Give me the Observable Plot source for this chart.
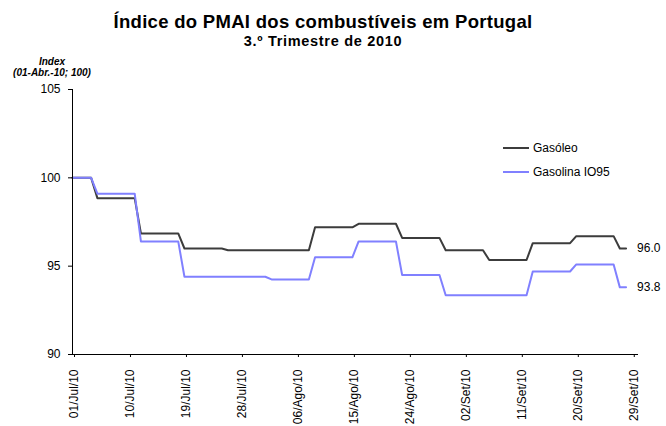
<!DOCTYPE html>
<html>
<head>
<meta charset="utf-8">
<script src="https://cdn.jsdelivr.net/npm/d3@7"></script>
<script src="https://cdn.jsdelivr.net/npm/@observablehq/plot@0.6"></script>
<style>
  html, body { margin: 0; padding: 0; background: #fff; overflow: hidden; }
  #wrap { position: relative; width: 666px; height: 426px; font-family: "Liberation Sans", Arial, sans-serif; color: #000; }
  .abs { position: absolute; white-space: nowrap; }
  #title { left: 0; width: 646px; text-align: center; top: 12px; font-size: 18.5px; line-height: 20.6px; font-weight: bold; letter-spacing: 0.3px; }
  #subtitle { left: 0; width: 646px; text-align: center; top: 33px; font-size: 14.5px; line-height: 16.2px; font-weight: bold; letter-spacing: 0.7px; }
  #ylab1, #ylab2 { left: 2px; width: 100px; text-align: center; font-size: 10px; line-height: 10px; font-weight: bold; font-style: italic; }
  #ylab1 { top: 57px; }
  #ylab2 { top: 68px; }
  #legend { left: 503px; top: 140px; font-size: 12px; }
  .item { display: flex; align-items: center; height: 16px; margin-bottom: 8px; }
  .sw { width: 26px; height: 2px; margin-right: 4px; }
  #chart { position: absolute; left: 0; top: 0; }
</style>
</head>
<body>
<div id="wrap">
  <div id="chart"></div>
  <div class="abs" id="title"></div>
  <div class="abs" id="subtitle"></div>
  <div class="abs" id="ylab1"></div>
  <div class="abs" id="ylab2"></div>
  <div class="abs" id="legend"></div>
</div>
<script>
// ---- Data ----
const titleText = "Índice do PMAI dos combustíveis em Portugal";
const subtitleText = "3.º Trimestre de 2010";
const yLabelLines = ["Index", "(01-Abr.-10; 100)"];

const seriesNames = ["Gasóleo", "Gasolina IO95"];
const seriesColors = ["#3c3c3c", "#8080ff"];

// Dates at which a new weekly price level starts
const changeDates = ["2010-07-01","2010-07-05","2010-07-12","2010-07-19","2010-07-26","2010-08-02","2010-08-09",
                     "2010-08-16","2010-08-23","2010-08-30","2010-09-06","2010-09-13","2010-09-20","2010-09-27"];
const lastDate = "2010-09-28";
const gasoleo  = [100, 98.85, 96.85, 96.0, 95.9, 95.9, 97.2, 97.4, 96.6, 95.9, 95.35, 96.3, 96.7, 96.0];
const gasolina = [100, 99.1, 96.4, 94.4, 94.4, 94.25, 95.5, 96.4, 94.5, 93.35, 93.35, 94.7, 95.1, 93.8];

const tickDates  = ["2010-07-01","2010-07-10","2010-07-19","2010-07-28","2010-08-06","2010-08-15",
                    "2010-08-24","2010-09-02","2010-09-11","2010-09-20","2010-09-29"];
const tickLabels = ["01/Jul/10","10/Jul/10","19/Jul/10","28/Jul/10","06/Ago/10","15/Ago/10",
                    "24/Ago/10","02/Set/10","11/Set/10","20/Set/10","29/Set/10"];
const yTicks = [90, 95, 100, 105];
const xDomainDates = ["2010-07-01", "2010-09-30"];
const yDomain = [90, 105];

// ---- Build table ----
const parse = d3.utcParse("%Y-%m-%d");
const DAY = 86400000;
function buildSeries(name, values) {
  const pts = [];
  for (let i = 0; i < changeDates.length; i++) {
    const start = parse(changeDates[i]);
    const end = i < changeDates.length - 1 ? new Date(parse(changeDates[i + 1]) - DAY) : parse(lastDate);
    pts.push({series: name, date: start, value: values[i]});
    pts.push({series: name, date: end, value: values[i]});
  }
  return pts;
}
const rows = [...buildSeries(seriesNames[0], gasoleo), ...buildSeries(seriesNames[1], gasolina)];
const lastPts = [
  {series: seriesNames[0], date: parse(lastDate), value: gasoleo[gasoleo.length - 1]},
  {series: seriesNames[1], date: parse(lastDate), value: gasolina[gasolina.length - 1]}
];

const H = 440;
const chart = Plot.plot({
  width: 666,
  height: H,
  marginLeft: 72,
  marginRight: 28,
  marginTop: 89,
  marginBottom: H - 354,
  style: {fontFamily: "'Liberation Sans', Arial, sans-serif", fontSize: "12px", color: "#000", background: "transparent", overflow: "visible"},
  x: {type: "utc", domain: xDomainDates.map(parse)},
  y: {domain: yDomain},
  color: {domain: seriesNames, range: seriesColors},
  marks: [
    Plot.line(rows, {x: "date", y: "value", z: "series", stroke: "series", strokeWidth: 2, curve: "linear"}),
    Plot.text(lastPts, {x: "date", y: "value", text: d => d.value.toFixed(1), textAnchor: "start", dx: 11, fill: "#000", fontSize: 12}),
    Plot.axisY({ticks: yTicks, tickSize: 4, tickPadding: 8, label: null, fontSize: 12}),
    Plot.axisX({ticks: tickDates.map(parse), tickFormat: (d, i) => tickLabels[i], tickRotate: -90, tickSize: 3, tickPadding: 12, dx: 2, label: null, fontSize: 12}),
    Plot.ruleX([parse(xDomainDates[0])], {stroke: "#000", strokeWidth: 1}),
    Plot.ruleY([yDomain[0]], {stroke: "#000", strokeWidth: 1})
  ]
});
document.getElementById("chart").appendChild(chart);

document.getElementById("title").textContent = titleText;
document.getElementById("subtitle").textContent = subtitleText;
document.getElementById("ylab1").textContent = yLabelLines[0];
document.getElementById("ylab2").textContent = yLabelLines[1];

const legend = document.getElementById("legend");
seriesNames.forEach((n, i) => {
  const it = document.createElement("div");
  it.className = "item";
  const sw = document.createElement("div");
  sw.className = "sw";
  sw.style.background = seriesColors[i];
  const t = document.createElement("span");
  t.textContent = n;
  it.appendChild(sw);
  it.appendChild(t);
  legend.appendChild(it);
});
</script>
</body>
</html>
